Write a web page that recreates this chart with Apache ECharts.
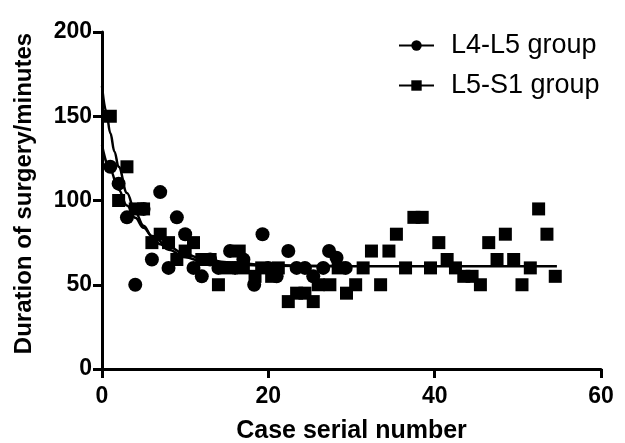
<!DOCTYPE html>
<html>
<head>
<meta charset="utf-8">
<script src="https://cdn.jsdelivr.net/npm/echarts@6/dist/echarts.min.js"></script>
<style>html,body{margin:0;padding:0;background:#fff;}#c{width:625px;height:443px;}</style>
</head>
<body>
<div id="c"></div>
<script>
const seriesNames = ['L4-L5 group', 'L5-S1 group'];
const xTicks = [0, 20, 40, 60];
const yTicks = [0, 50, 100, 150, 200];
const l4l5Points = [[1,120],[2,110],[3,90],[4,50],[5,95],[6,65],[7,105],[8,60],[9,90],[10,80],[11,60],[12,55],[13,65],[14,60],[15.4,70],[16,60],[17,65],[18.3,50],[19.3,80],[20,60],[21,55],[22.4,70],[23.4,60],[24.4,60],[25.4,55],[26.6,60],[27.3,70],[28.2,66],[29.3,60]];
const l5s1Points = [[1,150],[2,100],[3,120],[4,95],[5,95],[6,75],[7,80],[8,75],[9,65],[10,70],[11,75],[12,65],[13,65],[14,50],[15,60],[16.5,70],[17,60],[18.4,55],[19.2,60],[20.4,55],[21.2,60],[22.4,40],[23.4,45],[24.4,45],[25.4,40],[26,50],[27.4,50],[28.4,60],[29.4,45],[30.5,50],[31.4,60],[32.4,70],[33.5,50],[34.5,70],[35.4,80],[36.5,60],[37.5,90],[38.5,90],[39.5,60],[40.5,75],[41.5,65],[42.5,60],[43.5,55],[44.5,55],[45.5,50],[46.5,75],[47.5,65],[48.5,80],[49.5,65],[50.5,50],[51.5,60],[52.5,95],[53.5,80],[54.5,55]];
// fitted curves
const l4l5Fit = [[0,133],[1,118],[2,106.4],[3,97],[4,89.7],[5,83.8],[6,79],[8,72.5],[10,68.2],[12,65.5],[15,63.3],[20,61.7],[25,61.2],[29.5,61.1]];
const l5s1Fit = [[0,168],[0.5,153],[1,140],[1.5,129],[2,120],[3,104.5],[4,93],[5,85],[6,78.7],[7,74],[8,70.7],[10,66.3],[12,64],[15,62.2],[20,61.3],[30,61],[54.7,61]];

const FONT = '"Liberation Sans", Arial, Helvetica, sans-serif';
const chart = echarts.init(document.getElementById('c'));
chart.setOption({
  animation: false,
  backgroundColor: '#fff',
  grid: { left: 102, right: 24, top: 32, bottom: 74, containLabel: false, outerBoundsMode: 'none' },
  legend: {
    orient: 'vertical', left: 393, top: 27, itemWidth: 35, itemHeight: 13, itemGap: 13,
    data: seriesNames,
    textStyle: { fontFamily: FONT, fontSize: 27, color: '#000', padding: [0,0,0,12] }
  },
  xAxis: {
    type: 'value', min: xTicks[0], max: xTicks[xTicks.length-1], interval: 20,
    name: 'Case serial number', nameLocation: 'middle', nameGap: 50,
    nameTextStyle: { fontFamily: FONT, fontSize: 25, fontWeight: 'bold', color: '#000' },
    axisLine: { lineStyle: { color: '#000', width: 3 } },
    axisTick: { length: 9, lineStyle: { color: '#000', width: 3 } },
    axisLabel: { fontFamily: FONT, fontSize: 23, fontWeight: 'bold', color: '#000', margin: 16 },
    splitLine: { show: false }
  },
  yAxis: {
    type: 'value', min: yTicks[0], max: yTicks[yTicks.length-1], interval: 50,
    name: 'Duration of surgery/minutes', nameLocation: 'middle', nameGap: 66,
    nameTextStyle: { fontFamily: FONT, fontSize: 24, fontWeight: 'bold', color: '#000', padding: [0,0,0,14] },
    axisLine: { show: true, lineStyle: { color: '#000', width: 3 } },
    axisTick: { show: true, length: 9, lineStyle: { color: '#000', width: 3 } },
    axisLabel: { fontFamily: FONT, fontSize: 23, fontWeight: 'bold', color: '#000', margin: 10 },
    splitLine: { show: false }
  },
  series: [
    { name: 'L4-L5 data', type: 'scatter', data: l4l5Points, symbol: 'circle', symbolSize: 14, itemStyle: { color: '#000', opacity: 1 }, z: 3 },
    { name: 'L5-S1 data', type: 'scatter', data: l5s1Points, symbol: 'rect', symbolSize: 13, itemStyle: { color: '#000', opacity: 1 }, z: 3 },
    { name: seriesNames[0], type: 'line', data: l4l5Fit, smooth: 0.4, smoothMonotone: 'x', symbol: 'circle', symbolSize: 14, showSymbol: false, lineStyle: { color: '#000', width: 2.5 }, itemStyle: { color: '#000' }, z: 4 },
    { name: seriesNames[1], type: 'line', data: l5s1Fit, smooth: 0.4, smoothMonotone: 'x', symbol: 'rect', symbolSize: 13, showSymbol: false, lineStyle: { color: '#000', width: 2.5 }, itemStyle: { color: '#000' }, z: 4 }
  ]
});
</script>
</body>
</html>
